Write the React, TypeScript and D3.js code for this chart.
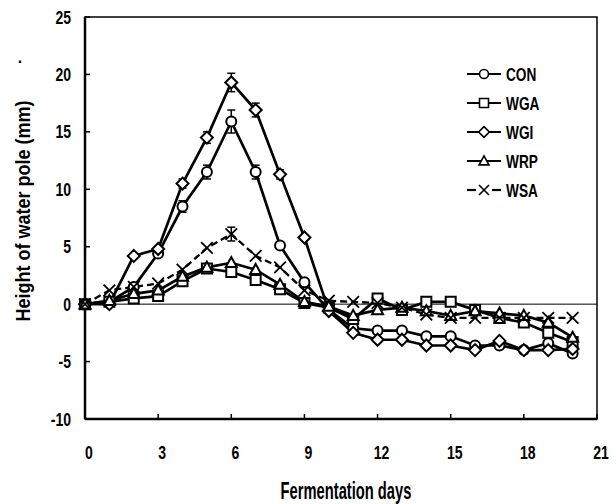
import React from 'react';
import * as d3 from 'd3';

// fermentation days and mean heights (mm) per treatment
const days = [0, 1, 2, 3, 4, 5, 6, 7, 8, 9, 10, 11, 12, 13, 14, 15, 16, 17, 18, 19, 20];
const conValues = [0, 0.2, 1.5, 4.4, 8.5, 11.5, 15.9, 11.5, 5.1, 1.9, -0.5, -2.1, -2.3, -2.3, -2.8, -2.8, -3.6, -3.6, -4.0, -3.4, -4.3];
const wgaValues = [0, 0.2, 0.5, 0.7, 2.0, 3.1, 2.8, 2.1, 1.3, 0.1, -0.3, -1.3, 0.5, -0.5, 0.2, 0.2, -0.5, -1.2, -1.6, -2.5, -3.3];
const wgiValues = [0, 0, 4.2, 4.8, 10.5, 14.5, 19.3, 16.9, 11.3, 5.8, -0.6, -2.5, -3.1, -3.1, -3.6, -3.6, -4.0, -3.2, -4.0, -4.0, -3.9];
const wrpValues = [0, 0.3, 0.9, 1.2, 2.4, 3.2, 3.6, 3.0, 1.7, 0.2, -0.2, -1.0, -0.5, -0.3, -0.6, -1.0, -0.6, -0.8, -1.0, -1.6, -2.9];
const wsaValues = [0, 1.2, 1.5, 1.8, 3.0, 4.9, 6.1, 4.2, 3.2, 1.2, 0.3, 0.2, 0.1, -0.3, -0.9, -1.2, -1.2, -1.2, -1.2, -1.2, -1.2];

// error bars (only visible around the peak)
const conErr = [0, 0, 0, 0, 0.5, 0.6, 1.0, 0.6, 0, 0, 0, 0, 0, 0, 0, 0, 0, 0, 0, 0, 0];
const wgiErr = [0, 0, 0, 0, 0.4, 0.5, 0.8, 0.6, 0.4, 0, 0, 0, 0, 0, 0, 0, 0, 0, 0, 0, 0];
const wsaErr = [0, 0, 0, 0, 0, 0, 0.6, 0, 0, 0, 0, 0, 0, 0, 0, 0, 0, 0, 0, 0, 0];

const seriesNames = ['CON', 'WGA', 'WGI', 'WRP', 'WSA'];
const xTicks = [0, 3, 6, 9, 12, 15, 18, 21];
const yTicks = [25, 20, 15, 10, 5, 0, -5, -10];

const series = [
  { name: 'CON', values: conValues, err: conErr, shape: 'circle', dashed: false },
  { name: 'WGA', values: wgaValues, err: null, shape: 'square', dashed: false },
  { name: 'WGI', values: wgiValues, err: wgiErr, shape: 'diamond', dashed: false },
  { name: 'WRP', values: wrpValues, err: null, shape: 'triangle', dashed: false },
  { name: 'WSA', values: wsaValues, err: wsaErr, shape: 'cross', dashed: true },
];

const FONT = '"Liberation Sans", Arial, sans-serif';

function markerPath(shape: string, r: number) {
  switch (shape) {
    case 'circle':
      return `M${r},0A${r},${r} 0 1,1 ${-r},0A${r},${r} 0 1,1 ${r},0Z`;
    case 'square':
      return `M${-r},${-r}H${r}V${r}H${-r}Z`;
    case 'diamond':
      return `M0,${-r * 1.2}L${r * 1.2},0L0,${r * 1.2}L${-r * 1.2},0Z`;
    case 'triangle':
      return `M0,${-r * 1.15}L${r * 1.1},${r * 0.85}L${-r * 1.1},${r * 0.85}Z`;
    default:
      return `M${-r},${-r}L${r},${r}M${-r},${r}L${r},${-r}`;
  }
}

// condensed bold text, like the narrow face of the original
function Narrow({ x, y, size, anchor = 'start', sx = 0.82, rotate = 0, children }: any) {
  return (
    <g transform={`translate(${x},${y}) rotate(${rotate}) scale(${sx},1)`}>
      <text textAnchor={anchor} fontFamily={FONT} fontWeight="bold" fontSize={size}>{children}</text>
    </g>
  );
}

export default function App() {
  const x = d3.scaleLinear().domain([0, 21]).range([85, 597]);
  const y = d3.scaleLinear().domain([-10, 25]).range([419, 17]);

  const line = d3.line<number>()
    .x((_, i) => x(days[i]))
    .y(d => y(d));

  return (
    <svg width={616} height={504} style={{ position: 'absolute', left: 0, top: 0, background: '#fff' }}>
      <rect width={616} height={504} fill="#fff" />

      {/* zero line */}
      <line x1={x(0)} x2={x(21)} y1={y(0)} y2={y(0)} stroke="#000" strokeWidth={1} />

      {/* ticks, inward */}
      {yTicks.map(t => (
        <line key={'yt' + t} x1={x(0)} x2={x(0) + 5} y1={y(t)} y2={y(t)} stroke="#000" strokeWidth={1.5} />
      ))}
      {xTicks.map(t => (
        <line key={'xt' + t} x1={x(t)} x2={x(t)} y1={y(-10)} y2={y(-10) - 5} stroke="#000" strokeWidth={1.5} />
      ))}

      {/* frame */}
      <rect x={x(0)} y={y(25)} width={x(21) - x(0)} height={y(-10) - y(25)} fill="none" stroke="#000" strokeWidth={1.5} />
      <line x1={x(0)} x2={x(0)} y1={y(25)} y2={y(-10)} stroke="#000" strokeWidth={2.5} />
      <line x1={x(0)} x2={x(21)} y1={y(-10)} y2={y(-10)} stroke="#000" strokeWidth={2.5} />

      {/* tick labels */}
      {yTicks.map(t => (
        <Narrow key={'yl' + t} x={71} y={y(t) + 6.5} size={18} sx={0.78} anchor="end">{t}</Narrow>
      ))}
      {xTicks.map(t => (
        <Narrow key={'xl' + t} x={x(t) + 4} y={459} size={18} sx={0.78} anchor="middle">{t}</Narrow>
      ))}

      {/* axis titles */}
      <Narrow x={346} y={499} size={23} anchor="middle" sx={0.64}>Fermentation days</Narrow>
      <Narrow x={30} y={211} size={20} anchor="middle" sx={0.9} rotate={-90}>Height of water pole (mm)</Narrow>
      <text x={20} y={63} textAnchor="middle" fontFamily={FONT} fontWeight="bold" fontSize={16}>.</text>

      {/* lines */}
      {series.map(s => (
        <path key={'ln' + s.name} d={line(s.values) || ''} fill="none" stroke="#000"
          strokeWidth={s.dashed ? 2.3 : 2.7} strokeDasharray={s.dashed ? '7,4' : undefined} />
      ))}

      {/* error bars */}
      {series.filter(s => s.err).map(s => (
        <g key={'eb' + s.name}>
          {s.values.map((v, i) => {
            const e = s.err![i];
            if (!e) return null;
            return (
              <g key={i} stroke="#000" strokeWidth={1.5}>
                <line x1={x(days[i])} x2={x(days[i])} y1={y(v + e)} y2={y(v - e)} />
                <line x1={x(days[i]) - 4} x2={x(days[i]) + 4} y1={y(v + e)} y2={y(v + e)} />
                <line x1={x(days[i]) - 4} x2={x(days[i]) + 4} y1={y(v - e)} y2={y(v - e)} />
              </g>
            );
          })}
        </g>
      ))}

      {/* markers */}
      {series.map(s => (
        <g key={'mk' + s.name}>
          {s.values.map((v, i) => (
            <path key={i} transform={`translate(${x(days[i])},${y(v)})`} d={markerPath(s.shape, s.shape === 'cross' ? 5.8 : 5)}
              fill={s.shape === 'cross' ? 'none' : '#fff'} stroke="#000" strokeWidth={s.shape === 'cross' ? 1.8 : 2} />
          ))}
        </g>
      ))}

      {/* legend */}
      {seriesNames.map((name, i) => {
        const s = series.find(d => d.name === name)!;
        const ly = 74 + i * 29;
        return (
          <g key={'lg' + name}>
            {s.dashed ? (
              <g stroke="#000" strokeWidth={2.2}>
                <line x1={467} x2={476} y1={ly} y2={ly} />
                <line x1={492} x2={501} y1={ly} y2={ly} />
              </g>
            ) : (
              <line x1={467} x2={501} y1={ly} y2={ly} stroke="#000" strokeWidth={2.2} />
            )}
            <path transform={`translate(484,${ly})`} d={markerPath(s.shape, s.shape === 'cross' ? 5 : 4.5)}
              fill={s.shape === 'cross' ? 'none' : '#fff'} stroke="#000" strokeWidth={1.6} />
            <Narrow x={506} y={ly + 7} size={19} sx={0.72}>{name}</Narrow>
          </g>
        );
      })}
    </svg>
  );
}
